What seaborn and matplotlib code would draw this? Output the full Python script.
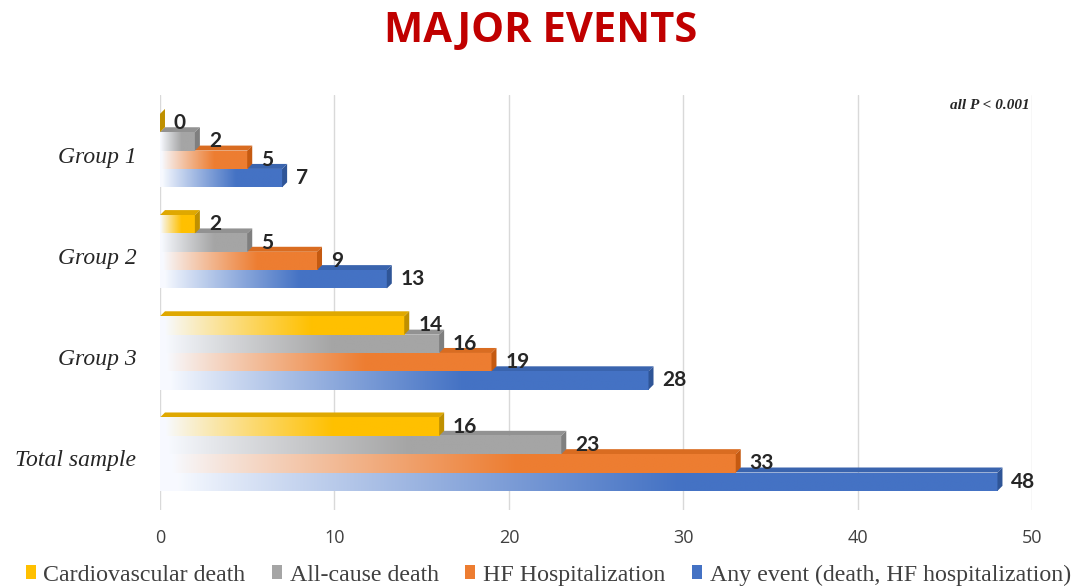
import numpy as np
import pandas as pd
import matplotlib
matplotlib.use("Agg")
import matplotlib.pyplot as plt
from matplotlib.patches import Polygon, Patch
from matplotlib.colors import to_rgb
import seaborn as sns

# ---- data ----
groups = ["Group 1", "Group 2", "Group 3", "Total sample"]
series = ["Cardiovascular death", "All-cause death", "HF Hospitalization",
          "Any event (death, HF hospitalization)"]
cardiovascular_death = [0, 2, 14, 16]
all_cause_death = [2, 5, 16, 23]
hf_hospitalization = [5, 9, 19, 33]
any_event = [7, 13, 28, 48]
x_ticks = [0, 10, 20, 30, 40, 50]

colors = ["#FFC000", "#A5A5A5", "#ED7D31", "#4472C4"]
dark_colors = ["#BF9000", "#7F7F7F", "#C55A11", "#2F5597"]

values = [cardiovascular_death, all_cause_death, hf_hospitalization, any_event]
df = pd.DataFrame([
    {"group": g, "series": s, "value": v}
    for s, vals in zip(series, values) for g, v in zip(groups, vals)
])

sns.set_theme(style="white")
fig = plt.figure(figsize=(10.81, 5.86), dpi=100)
ax = fig.add_axes([0.148, 0.13, 0.807, 0.708])

sns.barplot(data=df, y="group", x="value", hue="series", orient="h",
            hue_order=series, order=groups, palette=colors, width=0.725,
            gap=0.0, ax=ax, legend=False, saturation=1)

YLIM = (3.55, -0.55)
ax.set_xlim(0, 50)
ax.set_ylim(*YLIM)
ax.set_xticks(x_ticks)
ax.set_xlabel("")
ax.set_ylabel("")
for sp in ax.spines.values():
    sp.set_visible(False)
ax.grid(axis="x", color="#D9D9D9", linewidth=1.0)
ax.set_axisbelow(True)

fig.canvas.draw()
p0 = ax.transData.transform((0, 0))
p1 = ax.transData.transform((1, 1))
pxx = abs(p1[0] - p0[0])
pxy = abs(p1[1] - p0[1])
dx = 5.0 / pxx
dy = 5.0 / pxy

for i, cont in enumerate(ax.containers):
    base = np.array(to_rgb(colors[i]))
    dark = np.array(to_rgb(dark_colors[i]))
    z = 10 - 2 * i
    for patch in cont:
        x0 = patch.get_x()
        w = patch.get_width()
        x1 = x0 + w
        ytop = patch.get_y()
        ybot = ytop + patch.get_height()
        patch.set_zorder(z)
        patch.set_edgecolor("none")
        if w > 0:
            n = 256
            t = np.linspace(0, 1, n)
            frac = np.clip((t - 0.02) / 0.6, 0, 1) ** 0.9
            white = np.array([0.97, 0.98, 1.0])
            rgb = white[None, :] * (1 - frac[:, None]) + base[None, :] * frac[:, None]
            img = np.ones((1, n, 4))
            img[0, :, :3] = rgb
            im = ax.imshow(img, extent=[x0, x1, ybot, ytop], aspect="auto",
                           interpolation="bilinear", zorder=z + 0.1)
            im.set_clip_path(patch)
        top = Polygon([(x0, ytop), (x1, ytop), (x1 + dx, ytop - dy), (x0 + dx, ytop - dy)],
                      closed=True, facecolor=tuple(dark * 0.5 + base * 0.5),
                      edgecolor="none", zorder=z - 0.5)
        ax.add_patch(top)
        side = Polygon([(x1, ytop), (x1 + dx, ytop - dy), (x1 + dx, ybot - dy), (x1, ybot)],
                       closed=True, facecolor=tuple(dark), edgecolor="none", zorder=z + 0.2)
        ax.add_patch(side)
    ax.bar_label(cont, labels=[f"{v:g}" for v in values[i]], padding=10,
                 fontsize=15, fontweight="bold", color="#262626",
                 family="Lato", zorder=20)

ax.set_xlim(0, 50)
ax.set_ylim(*YLIM)

ax.tick_params(axis="x", length=0, pad=14, labelsize=13, labelcolor="#404040")
for lab in ax.get_xticklabels():
    lab.set_family("Open Sans")
ax.tick_params(axis="y", length=0, pad=17)
ax.set_yticks([k + 0.04 for k in range(len(groups))])
ax.set_yticklabels(groups, fontsize=17, fontstyle="italic",
                   family="Liberation Serif", color="#262626")

ax.text(0.997, 0.99, "all P < 0.001", transform=ax.transAxes, ha="right", va="top",
        fontsize=11, fontweight="bold", fontstyle="italic",
        family="Liberation Serif", color="#262626")

fig.text(0.5, 0.946, "MAJOR EVENTS", ha="center", va="center", fontsize=30,
         fontweight="bold", color="#C00000", family="Open Sans")

handles = [Patch(facecolor=c, edgecolor="none") for c in colors]
leg = fig.legend(handles, series, loc="lower center", bbox_to_anchor=(0.507, -0.036),
                 ncol=4, frameon=False, handlelength=0.42, handleheight=0.55,
                 handletextpad=0.33, columnspacing=1.1,
                 prop={"family": "Liberation Serif", "size": 17.2})
for t in leg.get_texts():
    t.set_color("#404040")

fig.savefig("out.png", dpi=100)
